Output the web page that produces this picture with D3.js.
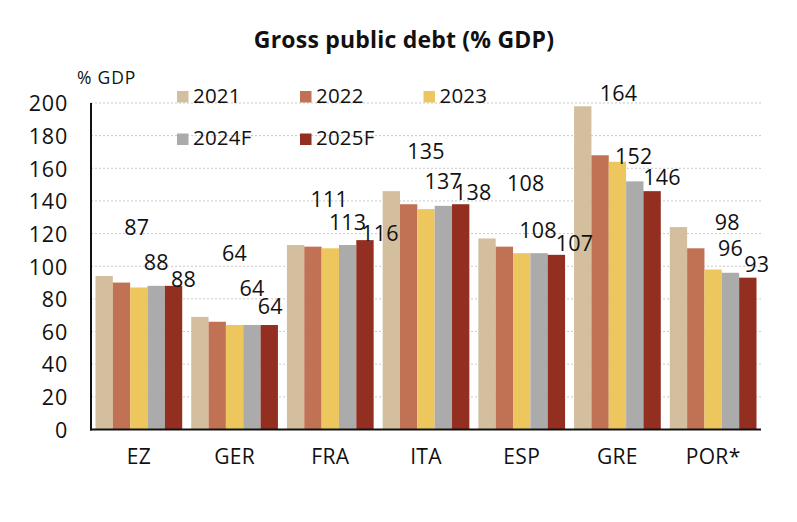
<!DOCTYPE html>
<html><head><meta charset="utf-8">
<script src="https://cdn.jsdelivr.net/npm/d3@7"></script>
<style>
html,body{margin:0;padding:0;background:#fff;}
svg{display:block;font-family:"Open Sans",sans-serif;}
</style></head>
<body><svg id="chart" width="797" height="522"></svg>
<script>
// ---- data ----
const categories = ["EZ","GER","FRA","ITA","ESP","GRE","POR*"];
const seriesNames = ["2021","2022","2023","2024F","2025F"];
const v2021 = [94, 69, 113, 146, 117, 198, 124];
const v2022 = [90, 66, 112, 138, 112, 168, 111];
const v2023 = [87, 64, 111, 135, 108, 164, 98];
const v2024F = [88, 64, 113, 137, 108, 152, 96];
const v2025F = [88, 64, 116, 138, 107, 146, 93];
const yTicks = [0,20,40,60,80,100,120,140,160,180,200];
const labelledSeries = ["2023","2024F","2025F"];

// ---- layout / style ----
const colors = ["#D3BF9D","#C27254","#EDC65E","#ABABAB","#922F20"];
// label nudges [dx, dy] of label centre from bar centre / bar top, per labelled series per category
const labelNudge = {
  "2023":  [[-2,-60],[0,-72],[-1,-49],[0,-58],[4,-70],[1,-68],[14,-47]],
  "2024F": [[0,-24],[0,-37],[0,-23],[0,-25],[-1,-23],[-1,-25],[0,-24]],
  "2025F": [[10,-7],[1,-19],[15,-7],[12,-12],[18,-12],[10,-14],[9,-13]]
};
const valuesBySeries = [v2021, v2022, v2023, v2024F, v2025F];

(function(){
const svg = d3.select("#chart");
const mLeft = 91, mRight = 761, mTop = 103, mBottom = 429.5;

const x0 = d3.scaleBand().domain(categories).range([mLeft, mRight]).paddingInner(0.094).paddingOuter(0.047);
const x1 = d3.scaleBand().domain(seriesNames).range([0, x0.bandwidth()]).padding(0);
const y = d3.scaleLinear().domain([0, 200]).range([mBottom, mTop]);
const color = d3.scaleOrdinal().domain(seriesNames).range(colors);

// title
svg.append("text").attr("x", 404).attr("y", 48).attr("text-anchor","middle")
  .attr("font-size", 23).attr("font-weight", 700).attr("letter-spacing", 0.2).attr("fill","#111")
  .text("Gross public debt (% GDP)");

// y-axis unit label
svg.append("text").attr("x", 77).attr("y", 84).attr("font-size", 17.5).attr("fill","#111")
  .attr("letter-spacing", 0.8).text("% GDP");

// gridlines
svg.append("g").selectAll("line").data(yTicks.filter(d => d > 0)).join("line")
  .attr("x1", mLeft).attr("x2", mRight).attr("y1", d => y(d)).attr("y2", d => y(d))
  .attr("stroke", "#c8c8c8").attr("stroke-width", 1).attr("stroke-dasharray", "2,2");

// y axis
const yAxis = d3.axisLeft(y).tickValues(yTicks).tickSize(0).tickPadding(23);
const gy = svg.append("g").attr("transform", `translate(${mLeft},0)`).call(yAxis);
gy.select(".domain").remove();
gy.selectAll("text").attr("font-size", 21.5).attr("fill","#111").attr("letter-spacing", 0.8)
  .attr("font-family", '"Open Sans",sans-serif').attr("dy","0.36em");

// bars
const rows = categories.map((c, i) => ({cat: c, i, vals: seriesNames.map((s, j) => ({s, j, v: valuesBySeries[j][i]}))}));
const groups = svg.append("g").selectAll("g").data(rows).join("g")
  .attr("transform", d => `translate(${x0(d.cat)},0)`);
groups.selectAll("rect").data(d => d.vals).join("rect")
  .attr("x", d => x1(d.s)).attr("width", x1.bandwidth())
  .attr("y", d => y(d.v)).attr("height", d => y(0) - y(d.v))
  .attr("fill", d => color(d.s));

// axes lines
svg.append("line").attr("x1", mLeft).attr("x2", mLeft).attr("y1", mTop).attr("y2", mBottom+1)
  .attr("stroke","#111").attr("stroke-width", 2);
svg.append("line").attr("x1", mLeft-1).attr("x2", mRight).attr("y1", mBottom).attr("y2", mBottom)
  .attr("stroke","#111").attr("stroke-width", 2);

// x axis labels
const xAxis = d3.axisBottom(x0).tickSize(0).tickPadding(20);
const gx = svg.append("g").attr("transform", `translate(0,${mBottom})`).call(xAxis);
gx.select(".domain").remove();
gx.selectAll("text").attr("font-size", 21).attr("fill","#111").attr("letter-spacing", 0.3)
  .attr("font-family", '"Open Sans",sans-serif');

// data labels
const labelData = [];
labelledSeries.forEach(s => {
  const j = seriesNames.indexOf(s);
  categories.forEach((c, i) => {
    labelData.push({s, c, v: valuesBySeries[j][i], n: labelNudge[s][i]});
  });
});
svg.append("g").selectAll("text").data(labelData).join("text")
  .attr("x", d => x0(d.c) + x1(d.s) + x1.bandwidth()/2 + d.n[0])
  .attr("y", d => y(d.v) + d.n[1] + 7.7)
  .attr("text-anchor","middle").attr("font-size", 21.5).attr("fill","#111").attr("letter-spacing", 0.2)
  .text(d => d.v);

// legend
const legCols = [177, 300, 423.5];
const legRows = [102.5, 145];
const legend = svg.append("g").selectAll("g").data(seriesNames).join("g")
  .attr("transform", (d, k) => `translate(${legCols[k % 3]},${legRows[Math.floor(k / 3)]})`);
legend.append("rect").attr("x", 0).attr("y", -11.5).attr("width", 11.5).attr("height", 11.5)
  .attr("fill", d => color(d));
legend.append("text").attr("x", 16).attr("y", 0).attr("font-size", 20.5).attr("fill","#111")
  .attr("letter-spacing", 0.2).text(d => d);
})();
</script></body></html>
